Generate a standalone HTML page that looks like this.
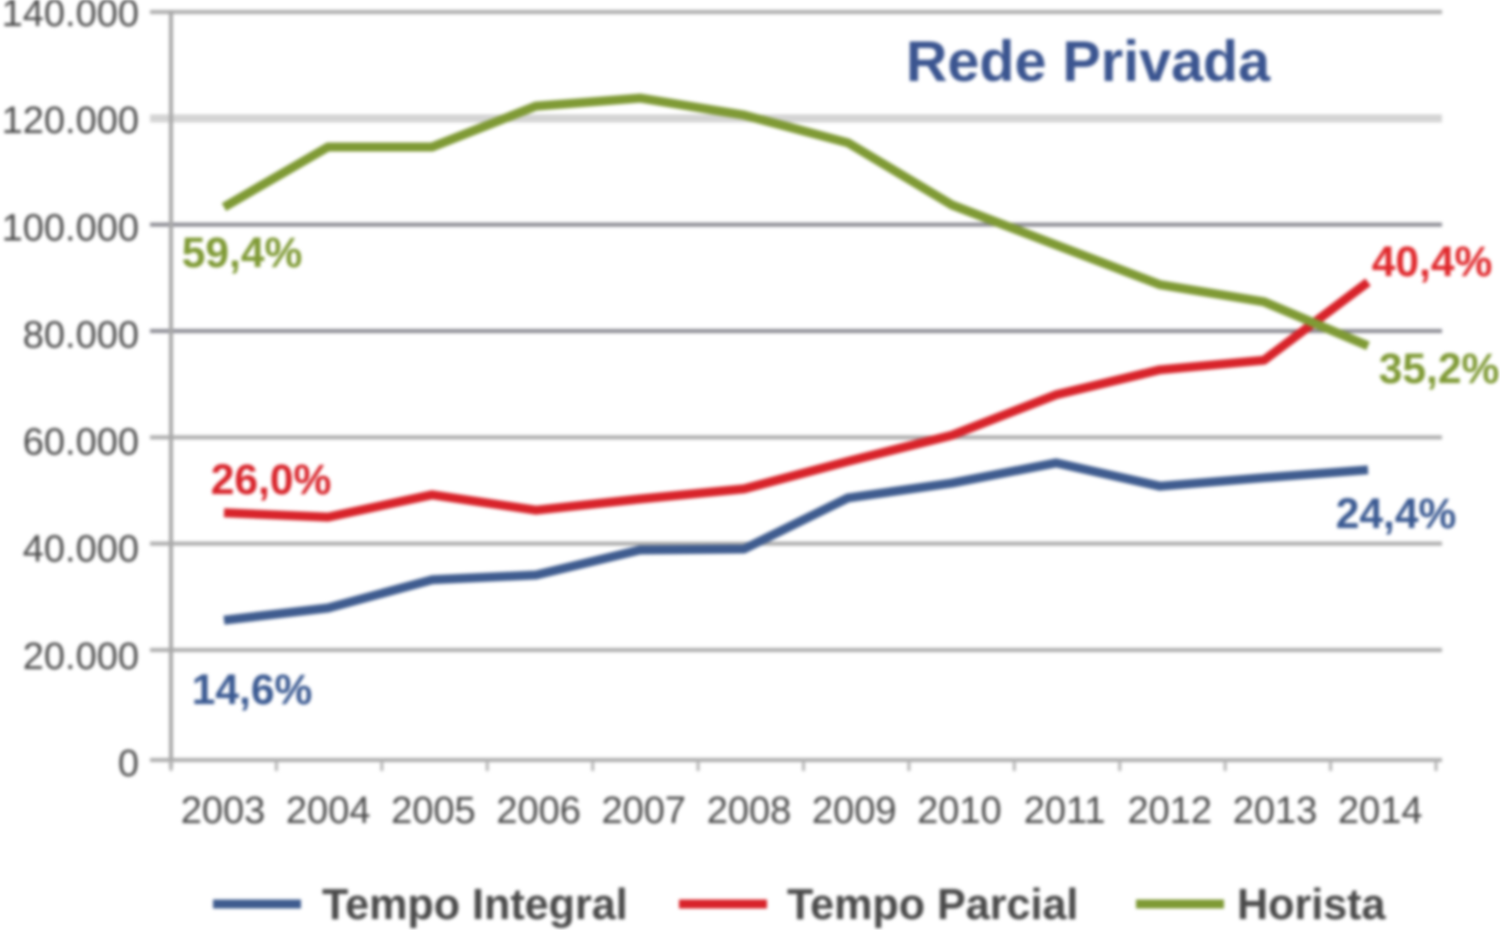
<!DOCTYPE html>
<html lang="pt">
<head>
<meta charset="utf-8">
<title>Rede Privada</title>
<style>
html,body{margin:0;padding:0;background:#fff;width:1500px;height:930px;overflow:hidden}
svg{display:block;filter:blur(1.5px)}
text{font-family:"Liberation Sans",sans-serif}
</style>
</head>
<body>
<svg id="chart" width="1500" height="930" viewBox="0 0 1500 930" xmlns="http://www.w3.org/2000/svg">
<text x="1088" y="81" text-anchor="middle" font-size="57.5" font-weight="bold" fill="#3b5590">Rede Privada</text>
<text x="242" y="267" text-anchor="middle" font-size="42.5" font-weight="bold" fill="#7f9a35">59,4%</text>
<text x="1439" y="383" text-anchor="middle" font-size="42.5" font-weight="bold" fill="#7f9a35">35,2%</text>
<text x="271" y="494" text-anchor="middle" font-size="42.5" font-weight="bold" fill="#d8232a">26,0%</text>
<text x="1432" y="276" text-anchor="middle" font-size="42.5" font-weight="bold" fill="#e0282c">40,4%</text>
<text x="252" y="704" text-anchor="middle" font-size="42.5" font-weight="bold" fill="#3b5a92">14,6%</text>
<text x="1396" y="528" text-anchor="middle" font-size="42.5" font-weight="bold" fill="#3b5a92">24,4%</text>
<g>
<line x1="213" y1="904" x2="301" y2="904" stroke="#3f5c8f" stroke-width="9"/>
<text x="322" y="919" font-size="43.1" font-weight="bold" fill="#4a4a4a">Tempo Integral</text>
<line x1="679" y1="904" x2="767" y2="904" stroke="#d8232a" stroke-width="9"/>
<text x="787" y="919" font-size="43.1" font-weight="bold" fill="#4a4a4a">Tempo Parcial</text>
<line x1="1136" y1="904" x2="1224" y2="904" stroke="#7f9a35" stroke-width="9"/>
<text x="1237" y="919" font-size="43.1" font-weight="bold" fill="#4a4a4a">Horista</text>
</g>
</svg>
<script>
const categories = ["2003","2004","2005","2006","2007","2008","2009","2010","2011","2012","2013","2014"];
const yTicks = [0,20000,40000,60000,80000,100000,120000,140000];
const yTickLabels = ["0","20.000","40.000","60.000","80.000","100.000","120.000","140.000"];
const tempoIntegral = [25600,27900,33200,34100,38800,39000,48600,51400,55200,50800,52400,53900];
const tempoParcial = [45800,45000,49200,46300,48400,50300,55500,60400,68000,72700,74500,89200];
const horista = [103300,114600,114600,122300,123800,120600,115400,103700,96200,88700,85500,77200];

const NS = "http://www.w3.org/2000/svg";
const svg = document.getElementById("chart");
const first = svg.firstElementChild;
// The source image's baseline sits a little below where the upper gridlines' spacing would put it.
const yScale = v => v >= 20000 ? 650 - (v - 20000) * (638 / 120000) : 760 - v * (110 / 20000);
const yLabelScale = v => 763 - v * (750 / 140000);
const xPoint = i => 224 + i * (1144 / (categories.length - 1));
const xBand = i => 171 + i * (1265 / categories.length);
const xLabel = i => 223 + i * 105.2;

function make(tag, attrs) {
  const el = document.createElementNS(NS, tag);
  for (const k in attrs) el.setAttribute(k, attrs[k]);
  svg.insertBefore(el, first);
  return el;
}

yTicks.forEach((t, i) => {
  const y = yScale(t);
  const isLight = t === 120000;
  const isDark = t === 100000 || t === 80000;
  const g = make("line", {x1:150, x2:1442, y1:y, y2:y, stroke:isLight ? "#d4d4d4" : (isDark ? "#8c8c94" : "#adadad"), "stroke-width":isLight ? 8 : 4});
  
  
  const lab = make("text", {x:139, y:yLabelScale(t) + 13, "text-anchor":"end", "font-size":38, fill:"#4a4a4a"});
  
  
  lab.textContent = yTickLabels[i];
});

const yAxis = make("line", {x1:171, x2:171, y1:10, y2:768, stroke:"#a8a8a8", "stroke-width":4});



for (let i = 0; i <= categories.length; i++) {
  const x = xBand(i);
  const tick = make("line", {x1:x, x2:x, y1:760, y2:771, stroke:"#b4b4b4", "stroke-width":3});
  
  
}
categories.forEach((c, i) => {
  const lab = make("text", {x:xLabel(i), y:823, "text-anchor":"middle", "font-size":38, fill:"#4a4a4a"});
  
  
  lab.textContent = c;
});

function drawSeries(values, color, name) {
  const pts = values.map((v, i) => xPoint(i).toFixed(1) + "," + yScale(v).toFixed(1)).join(" ");
  const line = make("polyline", {points:pts, fill:"none", stroke:color, "stroke-width":9, "stroke-linejoin":"round"});
  
  
}
drawSeries(tempoIntegral, "#3f5c8f", "series-tempo-integral");
drawSeries(tempoParcial, "#d8232a", "series-tempo-parcial");
drawSeries(horista, "#7f9a35", "series-horista");
</script>
</body>
</html>
